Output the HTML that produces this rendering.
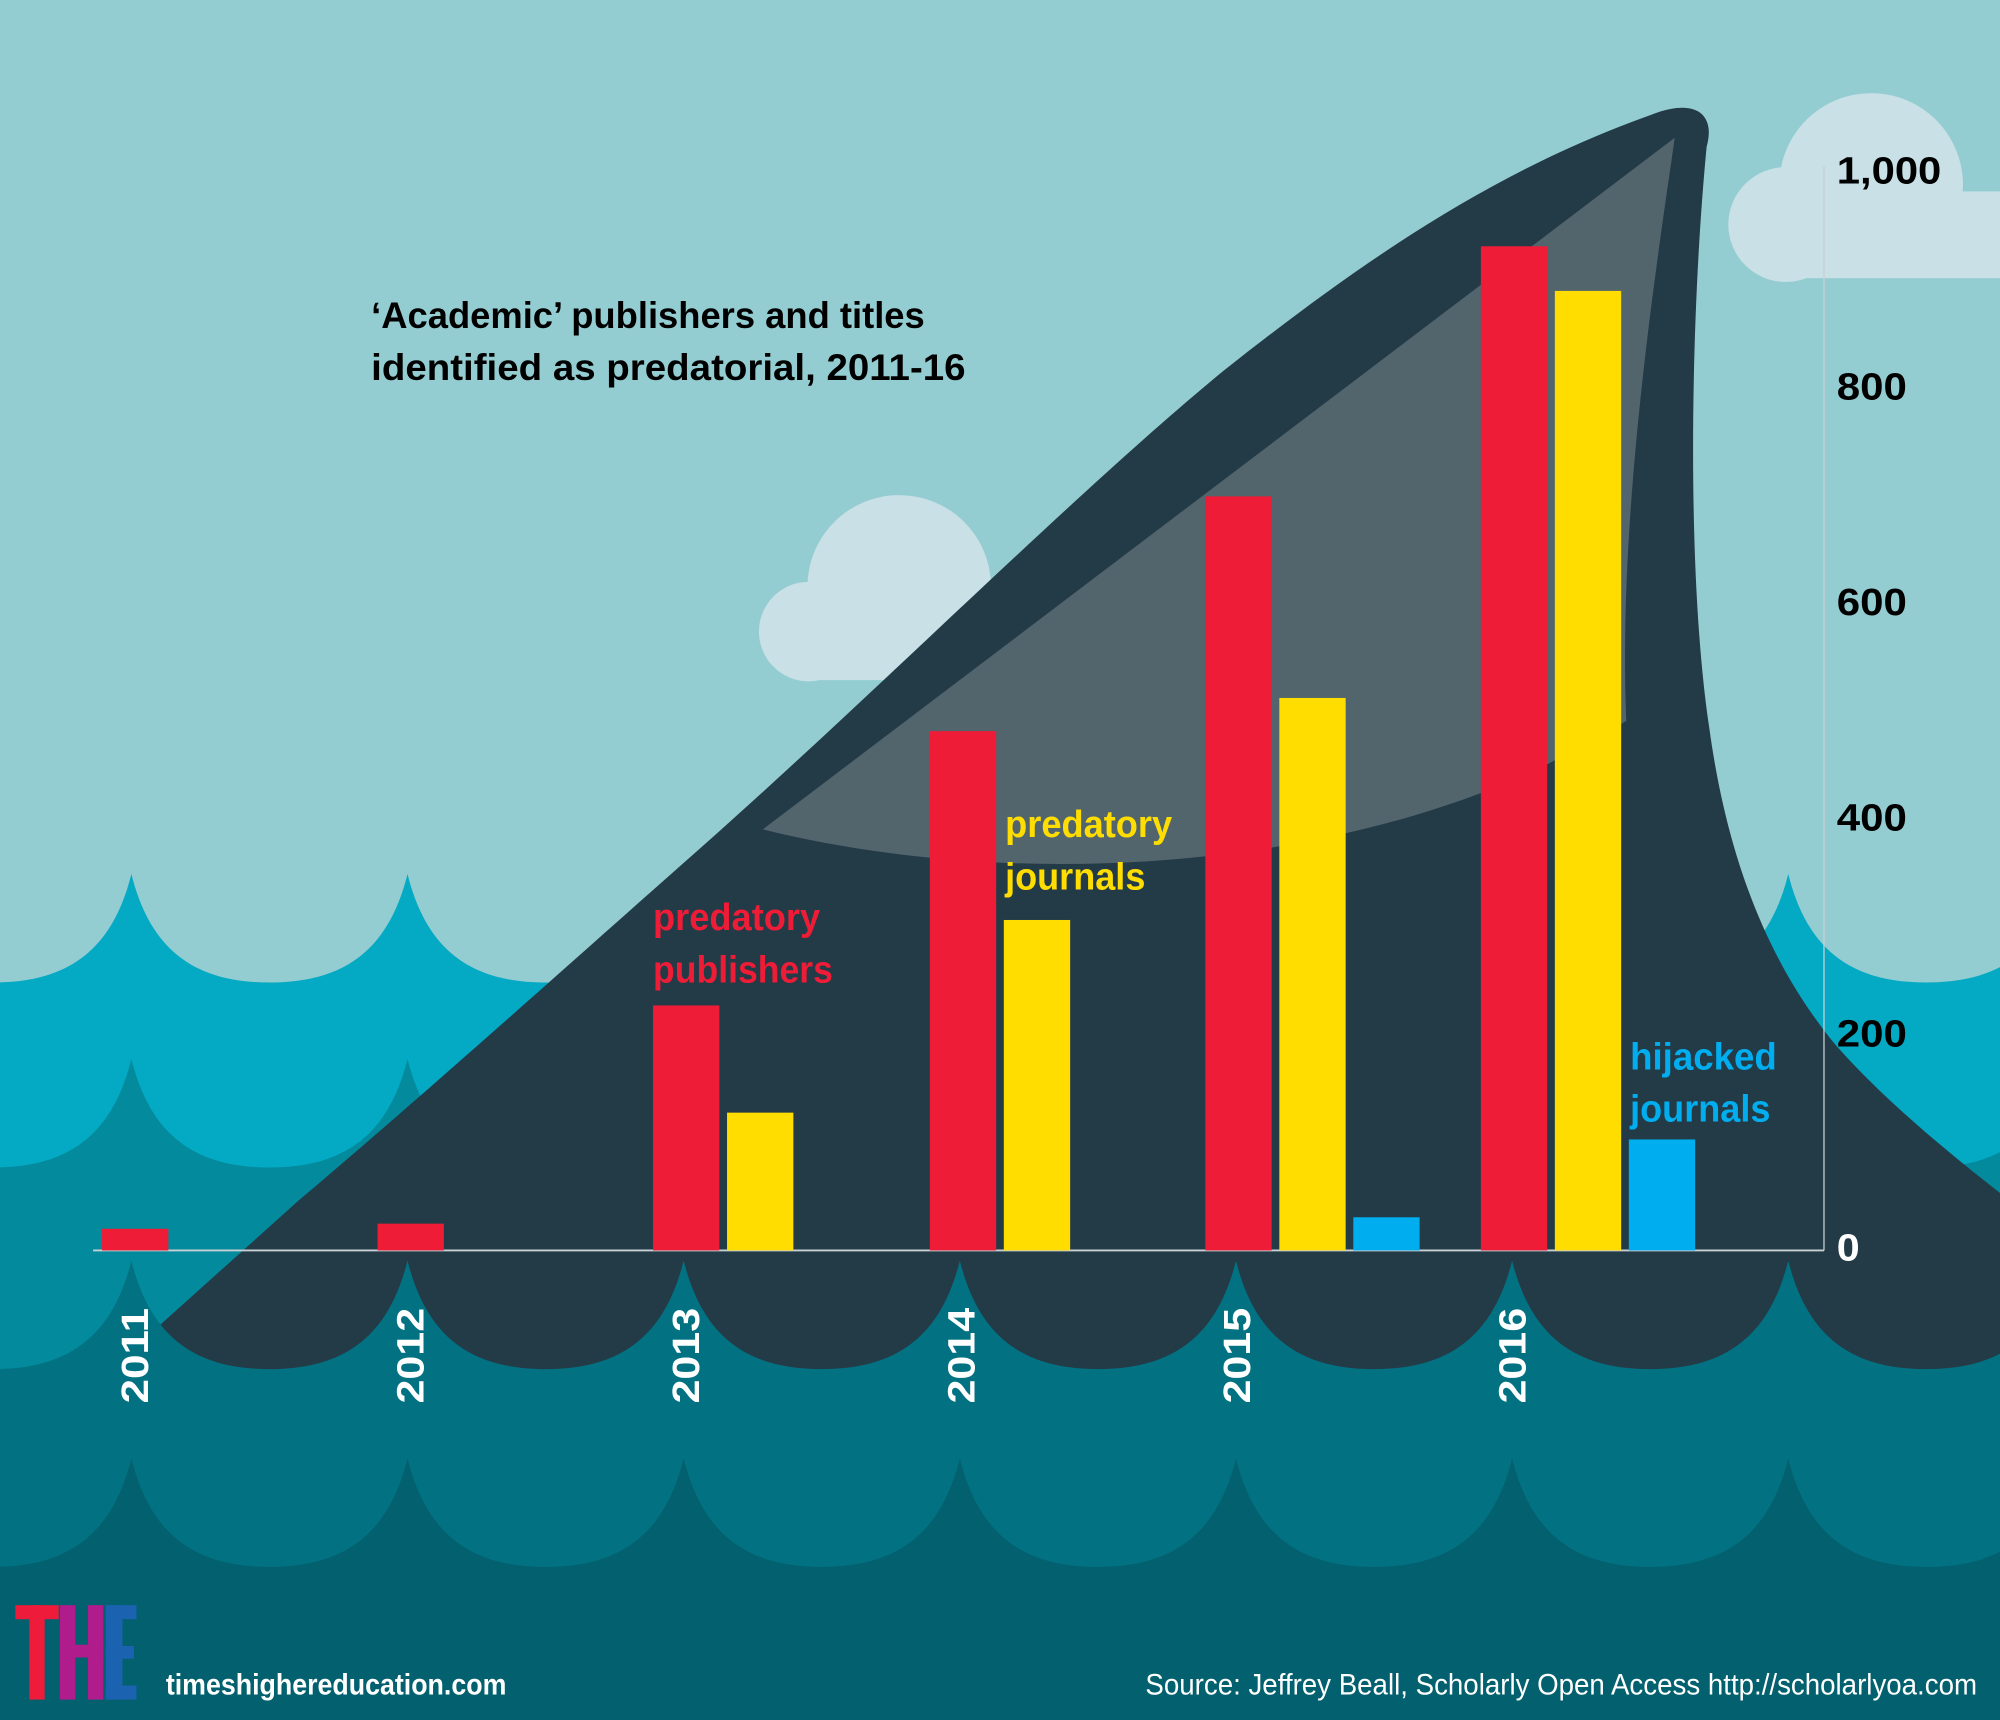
<!DOCTYPE html>
<html><head><meta charset="utf-8"><style>
html,body{margin:0;padding:0;background:#94cdd1}
svg{display:block}
text{font-family:"Liberation Sans Narrow","Liberation Sans",sans-serif;font-weight:bold}
</style></head><body>
<svg width="2000" height="1720" viewBox="0 0 1568 1348" preserveAspectRatio="none" xmlns="http://www.w3.org/2000/svg">
<rect width="1568" height="1348" fill="#94cdd1"/>
<!-- clouds -->
<g fill="#c8e0e6">
<circle cx="1467" cy="145" r="72"/><circle cx="1400" cy="176" r="45"/><rect x="1400" y="150" width="168" height="68"/>
<circle cx="705" cy="460" r="72"/><circle cx="634" cy="495" r="39"/><rect x="634" y="460" width="150" height="73"/>
</g>
<!-- wave layers 1,2 -->
<path fill="#04a9c4" d="M-113.5,685 c15,60 50,85 108.25,85 c58.25,0 93.25,-25 108.25,-85 c15,60 50,85 108.25,85 c58.25,0 93.25,-25 108.25,-85 c15,60 50,85 108.25,85 c58.25,0 93.25,-25 108.25,-85 c15,60 50,85 108.25,85 c58.25,0 93.25,-25 108.25,-85 c15,60 50,85 108.25,85 c58.25,0 93.25,-25 108.25,-85 c15,60 50,85 108.25,85 c58.25,0 93.25,-25 108.25,-85 c15,60 50,85 108.25,85 c58.25,0 93.25,-25 108.25,-85 c15,60 50,85 108.25,85 c58.25,0 93.25,-25 108.25,-85 c15,60 50,85 108.25,85 c58.25,0 93.25,-25 108.25,-85 L1800,1348 L-200,1348Z"/>
<path fill="#038a9c" d="M-113.5,830 c15,60 50,85 108.25,85 c58.25,0 93.25,-25 108.25,-85 c15,60 50,85 108.25,85 c58.25,0 93.25,-25 108.25,-85 c15,60 50,85 108.25,85 c58.25,0 93.25,-25 108.25,-85 c15,60 50,85 108.25,85 c58.25,0 93.25,-25 108.25,-85 c15,60 50,85 108.25,85 c58.25,0 93.25,-25 108.25,-85 c15,60 50,85 108.25,85 c58.25,0 93.25,-25 108.25,-85 c15,60 50,85 108.25,85 c58.25,0 93.25,-25 108.25,-85 c15,60 50,85 108.25,85 c58.25,0 93.25,-25 108.25,-85 c15,60 50,85 108.25,85 c58.25,0 93.25,-25 108.25,-85 L1800,1348 L-200,1348Z"/>
<!-- fin -->
<path fill="#233a47" d="M117,1046 L234,941 C330,860 430,770 560,655 C700,530 850,380 960,290 C1080,195 1180,130 1300,88 C1330,78 1345,90 1338,115 C1325,250 1322,450 1340,570 C1355,680 1390,760 1440,820 C1480,865 1530,905 1568,935 L1568,1348 L117,1348Z"/>
<path fill="#52646c" d="M598,650 L1313,108 C1300,200 1268,400 1275,565 C1250,580 1230,590 1215,598 C1050,680 800,700 598,650Z"/>
<!-- wave layers 3,4 -->
<path fill="#027283" d="M-113.5,988 c15,60 50,85 108.25,85 c58.25,0 93.25,-25 108.25,-85 c15,60 50,85 108.25,85 c58.25,0 93.25,-25 108.25,-85 c15,60 50,85 108.25,85 c58.25,0 93.25,-25 108.25,-85 c15,60 50,85 108.25,85 c58.25,0 93.25,-25 108.25,-85 c15,60 50,85 108.25,85 c58.25,0 93.25,-25 108.25,-85 c15,60 50,85 108.25,85 c58.25,0 93.25,-25 108.25,-85 c15,60 50,85 108.25,85 c58.25,0 93.25,-25 108.25,-85 c15,60 50,85 108.25,85 c58.25,0 93.25,-25 108.25,-85 c15,60 50,85 108.25,85 c58.25,0 93.25,-25 108.25,-85 L1800,1348 L-200,1348Z"/>
<path fill="#03606e" d="M-113.5,1143 c15,60 50,85 108.25,85 c58.25,0 93.25,-25 108.25,-85 c15,60 50,85 108.25,85 c58.25,0 93.25,-25 108.25,-85 c15,60 50,85 108.25,85 c58.25,0 93.25,-25 108.25,-85 c15,60 50,85 108.25,85 c58.25,0 93.25,-25 108.25,-85 c15,60 50,85 108.25,85 c58.25,0 93.25,-25 108.25,-85 c15,60 50,85 108.25,85 c58.25,0 93.25,-25 108.25,-85 c15,60 50,85 108.25,85 c58.25,0 93.25,-25 108.25,-85 c15,60 50,85 108.25,85 c58.25,0 93.25,-25 108.25,-85 c15,60 50,85 108.25,85 c58.25,0 93.25,-25 108.25,-85 L1800,1348 L-200,1348Z"/>
<!-- axis -->
<line x1="73" y1="980" x2="1430" y2="980" stroke="#c8d0d4" stroke-width="1.5"/>
<line x1="1430" y1="130" x2="1430" y2="980" stroke="#c8d0d4" stroke-width="1"/>
<!-- bars -->
<g fill="#ee1c36">
<rect x="80" y="963" width="52" height="17"/><rect x="296" y="959" width="52" height="21"/>
<rect x="512" y="788" width="52" height="192"/><rect x="729" y="573" width="52" height="407"/>
<rect x="945" y="389" width="52" height="591"/><rect x="1161" y="193" width="52" height="787"/>
</g>
<g fill="#ffdd00">
<rect x="570" y="872" width="52" height="108"/><rect x="787" y="721" width="52" height="259"/>
<rect x="1003" y="547" width="52" height="433"/><rect x="1219" y="228" width="52" height="752"/>
</g>
<g fill="#00aeef">
<rect x="1061" y="954" width="52" height="26"/><rect x="1277" y="893" width="52" height="87"/>
</g>
<!-- y labels -->
<g font-size="30" fill="#000">
<text x="1440" y="144" textLength="82" lengthAdjust="spacingAndGlyphs">1,000</text>
<text x="1440" y="313" textLength="55" lengthAdjust="spacingAndGlyphs">800</text>
<text x="1440" y="482" textLength="55" lengthAdjust="spacingAndGlyphs">600</text>
<text x="1440" y="651" textLength="55" lengthAdjust="spacingAndGlyphs">400</text>
<text x="1440" y="820" textLength="55" lengthAdjust="spacingAndGlyphs">200</text>
<text x="1440" y="988" fill="#fff" textLength="18" lengthAdjust="spacingAndGlyphs">0</text>
</g>
<!-- year labels -->
<g font-size="30" fill="#fff">
<text transform="translate(116,1100) rotate(-90)" textLength="75" lengthAdjust="spacingAndGlyphs">2011</text>
<text transform="translate(332,1100) rotate(-90)" textLength="75" lengthAdjust="spacingAndGlyphs">2012</text>
<text transform="translate(548,1100) rotate(-90)" textLength="75" lengthAdjust="spacingAndGlyphs">2013</text>
<text transform="translate(764,1100) rotate(-90)" textLength="75" lengthAdjust="spacingAndGlyphs">2014</text>
<text transform="translate(980,1100) rotate(-90)" textLength="75" lengthAdjust="spacingAndGlyphs">2015</text>
<text transform="translate(1196,1100) rotate(-90)" textLength="75" lengthAdjust="spacingAndGlyphs">2016</text>
</g>
<!-- series labels -->
<g font-size="30">
<text x="512" y="729" fill="#ee1c36" textLength="131" lengthAdjust="spacingAndGlyphs">predatory</text>
<text x="512" y="770" fill="#ee1c36" textLength="141" lengthAdjust="spacingAndGlyphs">publishers</text>
<text x="788" y="656" fill="#ffdd00" textLength="131" lengthAdjust="spacingAndGlyphs">predatory</text>
<text x="788" y="697" fill="#ffdd00" textLength="110" lengthAdjust="spacingAndGlyphs">journals</text>
<text x="1278" y="838" fill="#00aeef" textLength="115" lengthAdjust="spacingAndGlyphs">hijacked</text>
<text x="1278" y="879" fill="#00aeef" textLength="110" lengthAdjust="spacingAndGlyphs">journals</text>
</g>
<!-- title -->
<g font-size="29" fill="#000">
<text x="291" y="257" textLength="434" lengthAdjust="spacingAndGlyphs">‘Academic’ publishers and titles</text>
<text x="291" y="298" textLength="466" lengthAdjust="spacingAndGlyphs">identified as predatorial, 2011-16</text>
</g>
<!-- logo -->
<g>
<rect x="12" y="1258" width="34" height="11" fill="#ee1c3a"/><rect x="23" y="1258" width="12" height="74" fill="#ee1c3a"/>
<rect x="47" y="1258" width="12" height="74" fill="#b01c8c"/><rect x="69" y="1258" width="12" height="74" fill="#b01c8c"/><rect x="47" y="1289" width="34" height="10" fill="#b01c8c"/>
<rect x="83" y="1258" width="13" height="74" fill="#1b63b0"/><rect x="83" y="1258" width="24" height="11" fill="#1b63b0"/><rect x="83" y="1290" width="22" height="10" fill="#1b63b0"/><rect x="83" y="1321" width="24" height="11" fill="#1b63b0"/>
</g>
<text x="130" y="1328" font-size="23" fill="#fff" textLength="267" lengthAdjust="spacingAndGlyphs">timeshighereducation.com</text>
<text x="898" y="1328" font-size="23" fill="#fff" style="font-weight:normal" textLength="652" lengthAdjust="spacingAndGlyphs">Source: Jeffrey Beall, Scholarly Open Access http://scholarlyoa.com</text>
</svg>
</body></html>
